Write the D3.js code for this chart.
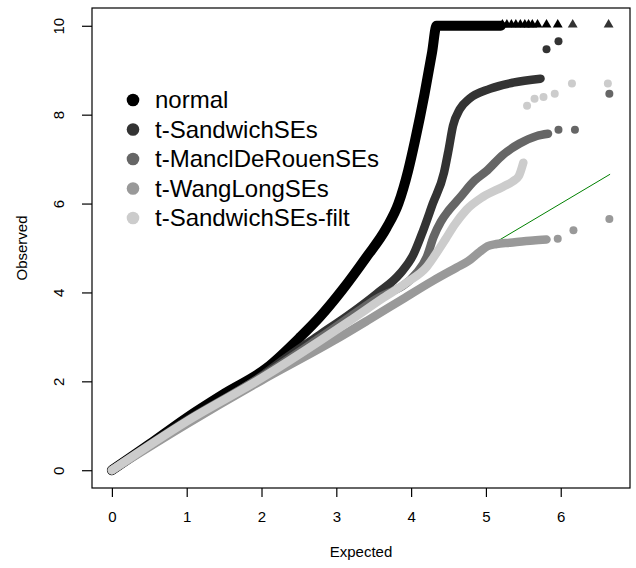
<!DOCTYPE html>
<html>
<head>
<meta charset="utf-8">
<script src="https://cdn.jsdelivr.net/npm/d3@7"></script>
<style>
  body { margin: 0; background: #fff; }
  text { font-family: "Liberation Sans", Arial, sans-serif; }
</style>
</head>
<body>
<div id="chart"></div>
<script>
// Dense part of each QQ curve as [expected, observed]
const normalCurve = [[0, 0], [0.5, 0.58], [1, 1.18], [1.5, 1.72], [2.07, 2.3], [2.52, 3.0],
  [2.78, 3.45], [3.09, 4.08], [3.4, 4.79], [3.67, 5.45], [3.83, 6.0], [3.96, 6.74],
  [4.05, 7.4], [4.18, 8.47], [4.28, 9.4], [4.34, 10], [5.2, 10]];
const sandwichCurve = [[0, 0], [1, 1.12], [2, 2.12], [2.29, 2.48], [2.78, 3.05], [3.18, 3.51],
  [3.54, 3.97], [3.85, 4.42], [4.03, 4.85], [4.16, 5.39], [4.29, 6.0], [4.44, 6.7],
  [4.5, 7.2], [4.56, 7.75], [4.65, 8.12], [4.78, 8.36], [5.05, 8.58], [5.36, 8.72], [5.73, 8.81]];
const manclCurve = [[0, 0], [1, 1.1], [2, 2.1], [2.78, 2.98], [3.5, 3.82], [4.08, 4.45],
  [4.21, 4.8], [4.3, 5.25], [4.4, 5.6], [4.5, 5.84], [4.65, 6.13], [4.85, 6.52],
  [5.0, 6.72], [5.23, 7.1], [5.45, 7.35], [5.68, 7.52], [5.83, 7.57]];
const wangCurve = [[0, 0], [1, 1.04], [2, 2.02], [2.96, 2.91], [3.41, 3.36], [3.85, 3.81],
  [4.29, 4.26], [4.61, 4.56], [4.76, 4.7], [4.92, 4.92], [5.02, 5.04], [5.14, 5.09],
  [5.32, 5.12], [5.63, 5.17], [5.81, 5.19]];
const filtCurve = [[0, 0], [1, 1.1], [2, 2.07], [2.78, 2.91], [3.18, 3.36], [3.63, 3.88],
  [3.94, 4.22], [4.21, 4.58], [4.36, 4.94], [4.46, 5.2], [4.58, 5.52], [4.74, 5.86],
  [4.96, 6.15], [5.23, 6.38], [5.36, 6.5], [5.44, 6.62], [5.5, 6.92]];

// Separate points in the upper tail
const sandwichTail = [[5.81, 9.47], [5.97, 9.65]];
const manclTail = [[5.97, 7.66], [6.19, 7.66], [6.65, 8.47]];
const wangTail = [[5.96, 5.21], [6.17, 5.4], [6.65, 5.65]];
const filtTail = [[5.55, 8.2], [5.65, 8.36], [5.77, 8.4], [5.92, 8.47], [6.15, 8.7], [6.63, 8.7]];

// Values capped at 10 (drawn as triangles)
const normalCapE = [5.22, 5.28, 5.34, 5.4, 5.46, 5.52, 5.57, 5.62, 5.69, 5.81, 5.96];
const sandwichCapE = [6.16, 6.64];
const capValue = 10;

const seriesNames = ["normal", "t-SandwichSEs", "t-ManclDeRouenSEs", "t-WangLongSEs", "t-SandwichSEs-filt"];
const seriesColors = ["#000000", "#333333", "#666666", "#999999", "#cccccc"];
const bandWidths = [10, 8.5, 8.5, 8.5, 8.5];
const xTicks = [0, 1, 2, 3, 4, 5, 6];
const yTicks = [0, 2, 4, 6, 8, 10];
const maxExpected = 6.66;

const width = 636, height = 568;
const box = { left: 92, right: 630, top: 8, bottom: 488 };

const svg = d3.select("#chart").append("svg")
  .attr("width", width)
  .attr("height", height);

const x = d3.scaleLinear().domain([-0.266, 6.926]).range([box.left, box.right]);
const y = d3.scaleLinear().domain([-0.4, 10.4]).range([box.bottom, box.top]);

// axes (R style: ticks outside, box around the plot)
const xAxis = svg.append("g")
  .attr("transform", `translate(0,${box.bottom})`)
  .call(d3.axisBottom(x).tickValues(xTicks).tickFormat(d3.format("d")).tickSize(9).tickPadding(14));
const yAxis = svg.append("g")
  .attr("transform", `translate(${box.left},0)`)
  .call(d3.axisLeft(y).tickValues(yTicks).tickFormat(d3.format("d")).tickSize(10));

[xAxis, yAxis].forEach((g) => {
  g.select(".domain").remove();
  g.selectAll(".tick line").attr("stroke", "#000").attr("stroke-width", 1.2);
  g.selectAll(".tick text").attr("fill", "#000").style("font-size", "15px");
});
yAxis.selectAll(".tick text")
  .attr("text-anchor", "middle")
  .attr("x", 0)
  .attr("dy", "0.35em")
  .attr("transform", "translate(-33,0) rotate(-90)");

svg.append("rect")
  .attr("x", box.left).attr("y", box.top)
  .attr("width", box.right - box.left).attr("height", box.bottom - box.top)
  .attr("fill", "none").attr("stroke", "#000").attr("stroke-width", 1.2);

svg.append("text")
  .attr("x", (box.left + box.right) / 2).attr("y", 557)
  .attr("text-anchor", "middle")
  .style("font-size", "15px")
  .text("Expected");
svg.append("text")
  .attr("transform", `translate(22,${(box.top + box.bottom) / 2}) rotate(-90)`)
  .attr("text-anchor", "middle")
  .attr("dy", "0.35em")
  .style("font-size", "15px")
  .text("Observed");

const plot = svg.append("g");

// y = x reference line
plot.append("line")
  .attr("x1", x(0)).attr("y1", y(0))
  .attr("x2", x(maxExpected)).attr("y2", y(maxExpected))
  .attr("stroke", "#008000").attr("stroke-width", 1);

const line = d3.line().x((d) => x(d[0])).y((d) => y(d[1])).curve(d3.curveMonotoneX);
const curves = [normalCurve, sandwichCurve, manclCurve, wangCurve, filtCurve];
const tails = [[], sandwichTail, manclTail, wangTail, filtTail];
const caps = [normalCapE, sandwichCapE, [], [], []];
const triangle = d3.symbol().type(d3.symbolTriangle).size(42);

curves.forEach((curve, i) => {
  plot.append("path")
    .attr("d", line(curve))
    .attr("fill", "none")
    .attr("stroke", seriesColors[i])
    .attr("stroke-width", bandWidths[i])
    .attr("stroke-linejoin", "round")
    .attr("stroke-linecap", "round");

  plot.selectAll(null)
    .data(tails[i])
    .enter()
    .append("circle")
    .attr("cx", (d) => x(d[0]))
    .attr("cy", (d) => y(d[1]))
    .attr("r", 4)
    .attr("fill", seriesColors[i]);

  plot.selectAll(null)
    .data(caps[i])
    .enter()
    .append("path")
    .attr("d", triangle)
    .attr("transform", (d) => `translate(${x(d)},${y(capValue) - 1})`)
    .attr("fill", seriesColors[i]);
});

// legend
const legend = svg.append("g").attr("transform", "translate(133,100)");
seriesNames.forEach((name, i) => {
  const row = legend.append("g").attr("transform", `translate(0,${i * 29.5})`);
  row.append("circle").attr("r", 6.3).attr("fill", seriesColors[i]);
  row.append("text")
    .attr("x", 22)
    .attr("dy", "0.35em")
    .style("font-size", "24px")
    .text(name);
});
</script>
</body>
</html>
